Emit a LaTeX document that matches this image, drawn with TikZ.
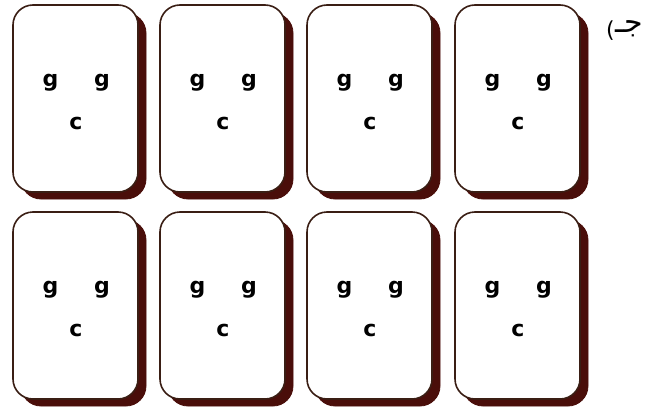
\documentclass[tikz,border=0pt]{standalone}
\usepackage{fontspec}
\setmainfont{DejaVu Sans}
\newfontfamily\arabicfont[Script=Arabic]{DejaVu Sans}
\TeXXeTstate=1
\definecolor{shadowc}{HTML}{4A0E0A}
\definecolor{borderc}{HTML}{3A1E14}
\begin{document}
\begin{tikzpicture}[x=1pt,y=-1pt,
  cardshadow/.style={fill=shadowc,draw=shadowc,line width=0.8pt,rounded corners=20pt},
  cardface/.style={fill=white,draw=borderc,line width=1.6pt,rounded corners=20pt},
  letter/.style={font=\fontsize{22}{22}\selectfont\bfseries,inner sep=0pt,anchor=base}]
\useasboundingbox (0,0) rectangle (655,412);
\fill[white] (0,0) rectangle (655,412);
\foreach \i/\x in {1/13,2/160,3/307,4/455}{
  \foreach \j/\y in {1/5,2/212}{
    \draw[cardshadow] (\x+8,\y+8) rectangle (\x+133,\y+194);
    \draw[cardface] (\x,\y) rectangle (\x+125,\y+187) ;
    \node[letter] (ga\i\j) at (\x+37.5,\y+81) {g};
    \node[letter] (gb\i\j) at (\x+89,\y+81) {g};
    \node[letter] (c\i\j) at (\x+63,\y+124) {c};
  }
}
\node[font=\fontsize{22}{22}\selectfont,inner sep=0pt,anchor=east] (par) at (615,31) {(};
\node[font=\fontsize{30}{30}\selectfont\arabicfont,inner sep=0pt,anchor=west] (jeem) at (615,29) {\beginR جـ\endR};
\end{tikzpicture}
\end{document}
